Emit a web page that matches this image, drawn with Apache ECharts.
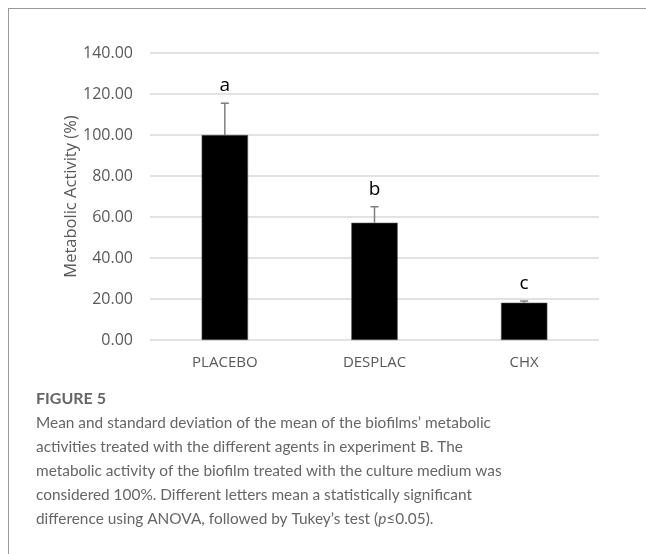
<!DOCTYPE html>
<html>
<head>
<meta charset="utf-8">
<script src="https://cdn.jsdelivr.net/npm/echarts@6/dist/echarts.min.js"></script>
<style>
  html, body { margin: 0; padding: 0; background: #fff; }
  #chart { width: 646px; height: 554px; }
</style>
</head>
<body>
<div id="chart"></div>
<script>
// data
const categories = ['PLACEBO', 'DESPLAC', 'CHX'];
const means = [100.0, 57.2, 18.2];
const sds = [15.5, 7.8, 0.8];
const letters = ['a', 'b', 'c'];
const yTicks = [0, 20, 40, 60, 80, 100, 120, 140];

const captionTitle = 'FIGURE 5';
const captionLines = [
  'Mean and standard deviation of the mean of the biofilms\u2019 metabolic',
  'activities treated with the different agents in experiment B. The',
  'metabolic activity of the biofilm treated with the culture medium was',
  'considered 100%. Different letters mean a statistically significant',
  'difference using ANOVA, followed by Tukey\u2019s test ({i|p}\u22640.05).'
];

const chart = echarts.init(document.getElementById('chart'));

const errData = categories.map((c, i) => [i, means[i], means[i] + sds[i], letters[i]]);

const option = {
  backgroundColor: '#fff',
  animation: false,
  grid: { left: 150, right: 47, top: 53, bottom: 214 },
  xAxis: {
    type: 'category',
    data: categories,
    axisLine: { show: false },
    axisTick: { show: false },
    axisLabel: { color: '#595959', fontSize: 15, fontFamily: 'Open Sans', margin: 15 }
  },
  yAxis: {
    type: 'value',
    min: yTicks[0],
    max: yTicks[yTicks.length - 1],
    interval: 20,
    name: 'Metabolic Activity (%)',
    nameLocation: 'middle',
    nameRotate: 90,
    nameGap: 70,
    nameMoveOverlap: false,
    nameTextStyle: { color: '#595959', fontSize: 16.5, fontFamily: 'Open Sans' },
    axisLine: { show: false },
    axisTick: { show: false },
    axisLabel: {
      color: '#595959', fontSize: 16, fontFamily: 'Open Sans', margin: 17,
      formatter: v => v.toFixed(2)
    },
    splitLine: { lineStyle: { color: '#d9d9d9', width: 1.5 } }
  },
  series: [
    {
      type: 'bar',
      data: means,
      barWidth: '31%',
      itemStyle: { color: '#000', borderColor: '#595959', borderWidth: 0.6 }
    },
    {
      type: 'custom',
      data: errData,
      z: 5,
      renderItem: function (params, api) {
        const x = api.value(0);
        const lo = api.coord([x, api.value(1)]);
        const hi = api.coord([x, api.value(2)]);
        const cap = 4;
        const st = { stroke: '#7f7f7f', lineWidth: 1.5 };
        return {
          type: 'group',
          children: [
            { type: 'line', shape: { x1: hi[0], y1: lo[1], x2: hi[0], y2: hi[1] }, style: st },
            { type: 'line', shape: { x1: hi[0] - cap, y1: hi[1], x2: hi[0] + cap, y2: hi[1] }, style: st },
            {
              type: 'text',
              x: hi[0], y: hi[1] - 8,
              style: {
                text: api.value(3), fill: '#000', fontSize: 19, fontFamily: 'Open Sans',
                align: 'center', verticalAlign: 'bottom'
              }
            }
          ]
        };
      }
    }
  ],
  graphic: [
    { type: 'line', shape: { x1: 8, y1: 8.5, x2: 646, y2: 8.5 }, style: { stroke: '#999', lineWidth: 1 } },
    { type: 'line', shape: { x1: 8.5, y1: 8, x2: 8.5, y2: 554 }, style: { stroke: '#999', lineWidth: 1 } },
    {
      type: 'text', left: 36, top: 391,
      style: { text: captionTitle, fill: '#666', fontSize: 16, fontWeight: 'bold', fontFamily: 'Lato' }
    },
    {
      type: 'text', left: 36, top: 411,
      style: {
        text: captionLines.join('\n'),
        fill: '#666', fontSize: 15.4, lineHeight: 24, fontFamily: 'Lato',
        rich: { i: { fontStyle: 'italic', fill: '#666', fontSize: 15.4, fontFamily: 'Lato' } }
      }
    }
  ]
};

chart.setOption(option);
</script>
</body>
</html>
